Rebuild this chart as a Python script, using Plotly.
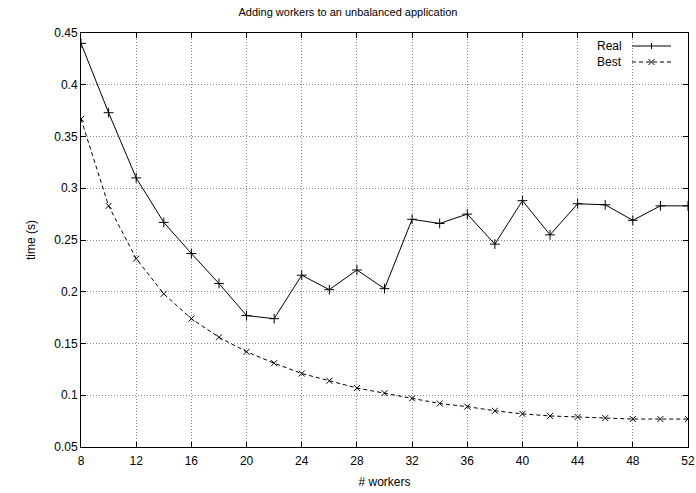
import plotly.graph_objects as go

workers = [8, 10, 12, 14, 16, 18, 20, 22, 24, 26, 28, 30, 32, 34, 36, 38, 40, 42, 44, 46, 48, 50, 52]
real = [0.440, 0.373, 0.310, 0.267, 0.237, 0.208, 0.177, 0.174, 0.216, 0.202, 0.221, 0.203,
        0.270, 0.266, 0.275, 0.246, 0.288, 0.255, 0.285, 0.284, 0.269, 0.283, 0.283]
best = [0.367, 0.283, 0.232, 0.198, 0.174, 0.156, 0.142, 0.131, 0.121, 0.114, 0.107, 0.102,
        0.097, 0.092, 0.089, 0.085, 0.082, 0.080, 0.079, 0.078, 0.077, 0.077, 0.077]
x_ticks = [8, 12, 16, 20, 24, 28, 32, 36, 40, 44, 48, 52]
y_ticks = [0.05, 0.1, 0.15, 0.2, 0.25, 0.3, 0.35, 0.4, 0.45]
y_tick_text = ["0.05", "0.1", "0.15", "0.2", "0.25", "0.3", "0.35", "0.4", "0.45"]
series_names = ["Real", "Best"]

font = "Liberation Sans, Arial, sans-serif"
W, H = 696, 493
L, R, T, B = 81, 8, 33, 46
PW, PH = W - L - R, H - T - B


def px_x(px):
    return (px - L) / PW


def px_y(py):
    return (H - B - py) / PH


fig = go.Figure()
fig.add_trace(go.Scatter(
    x=workers, y=real, name=series_names[0], mode="lines+markers",
    line=dict(color="black", width=1),
    marker=dict(symbol="cross-thin", size=7, line=dict(color="black", width=1), color="black"),
    showlegend=False,
))
fig.add_trace(go.Scatter(
    x=workers, y=best, name=series_names[1], mode="lines+markers",
    line=dict(color="black", width=1, dash="4px,3px"),
    marker=dict(symbol="x-thin", size=6, line=dict(color="black", width=1), color="black"),
    showlegend=False,
))

axis_common = dict(
    showline=True, linecolor="black", linewidth=1, mirror="ticks",
    ticks="inside", ticklen=5, tickcolor="black",
    showgrid=True, gridcolor="#8a8a8a", griddash="1px,2px", gridwidth=1,
    zeroline=False, tickfont=dict(family=font, size=12, color="black"),
    automargin=False,
)

# gnuplot-style key: label on the left, sample on the right
shapes = []
annotations = []
key_rows = [(series_names[0], 46, "solid", "+"), (series_names[1], 62, "4px,3px", "x")]
for name, py, dash, sym in key_rows:
    annotations.append(dict(
        text=name, xref="paper", yref="paper", x=px_x(624), y=px_y(py),
        xanchor="right", yanchor="middle", showarrow=False,
        font=dict(family=font, size=12, color="black"),
    ))
    shapes.append(dict(
        type="line", xref="paper", yref="paper",
        x0=px_x(632), x1=px_x(671), y0=px_y(py), y1=px_y(py),
        line=dict(color="black", width=1, dash=dash),
    ))
    cx, cy, s = 651.5, py, 3
    if sym == "+":
        shapes.append(dict(type="line", xref="paper", yref="paper",
                           x0=px_x(cx), x1=px_x(cx), y0=px_y(cy - s), y1=px_y(cy + s),
                           line=dict(color="black", width=1)))
    else:
        shapes.append(dict(type="line", xref="paper", yref="paper",
                           x0=px_x(cx - s), x1=px_x(cx + s), y0=px_y(cy - s), y1=px_y(cy + s),
                           line=dict(color="black", width=1)))
        shapes.append(dict(type="line", xref="paper", yref="paper",
                           x0=px_x(cx - s), x1=px_x(cx + s), y0=px_y(cy + s), y1=px_y(cy - s),
                           line=dict(color="black", width=1)))

fig.update_layout(
    width=W, height=H,
    margin=dict(l=L, r=R, t=T, b=B),
    paper_bgcolor="white", plot_bgcolor="white",
    title=dict(text="Adding workers to an unbalanced application", x=0.5, xanchor="center",
               y=1 - 12 / H, yanchor="middle", font=dict(family=font, size=11, color="black")),
    font=dict(family=font, size=12, color="black"),
    xaxis=dict(range=[8, 52], tickvals=x_ticks, ticktext=[str(v) for v in x_ticks],
               ticklabelstandoff=3,
               title=dict(text="# workers", font=dict(family=font, size=12), standoff=10),
               **axis_common),
    yaxis=dict(range=[0.05, 0.45], tickvals=y_ticks, ticktext=y_tick_text,
               title=dict(text="time (s)", font=dict(family=font, size=12), standoff=16),
               **axis_common),
    shapes=shapes,
    annotations=annotations,
    showlegend=False,
)

fig.write_html("out.html")
